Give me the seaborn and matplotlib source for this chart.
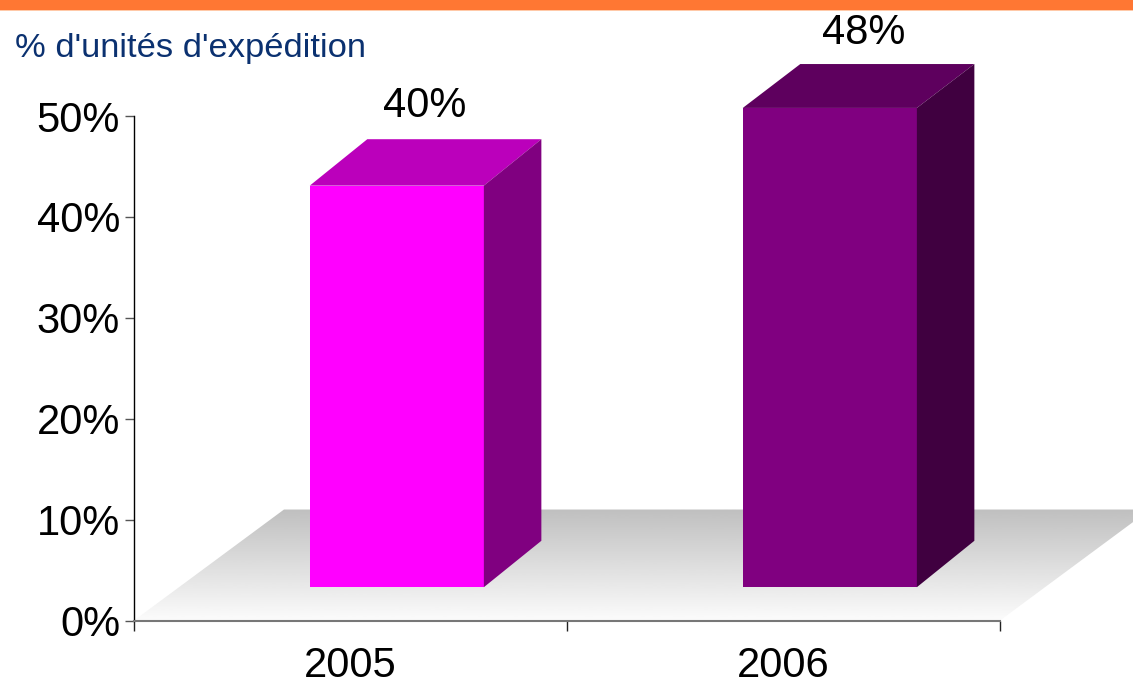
import matplotlib
matplotlib.use("Agg")
import matplotlib.pyplot as plt
import numpy as np
import seaborn as sns
from matplotlib.patches import Polygon, Rectangle

years = ["2005", "2006"]
values = [39.8, 47.5]
value_labels = ["40%", "48%"]
y_ticks = [0, 10, 20, 30, 40, 50]
y_tick_labels = ["0%", "10%", "20%", "30%", "40%", "50%"]
title = "% d'unités d'expédition"

front_colors = ["#ff00ff", "#800080"]
top_colors = ["#bb00bb", "#5e005e"]
side_colors = ["#800080", "#400040"]

W, H = 1133, 686

sns.set_theme(style="white")
plt.rcParams['font.family'] = ['Liberation Sans', 'DejaVu Sans']

fig = plt.figure(figsize=(W / 100, H / 100), dpi=100)
ax = fig.add_axes([134 / W, (H - 620.5) / H, 866 / W, 504.5 / H])
ax.patch.set_alpha(0)

sns.barplot(x=years, y=values, hue=years, palette=front_colors, width=0.402,
            saturation=1, legend=False, linewidth=0, ax=ax, zorder=3)
ax.set_xlim(-0.5, 1.5)
ax.set_ylim(0, 50)

# fake 3d: how far the box goes back, and where the front face sits
depth_x = 57.5 / 433
depth_bottom = 4.6
depth_top = [4.6, 4.35]
label_dx = [28 / 433, 33.5 / 433]
label_dy = [3.3, 3.05]
lift = 3.3
shift = 0.107

# floor with the grey gradient, it runs past the axes on the right
floor = Polygon([(-0.5, 0), (-0.5 + 150 / 433, 11), (1.5 + 150 / 433, 11), (1.5, 0)],
                closed=True, transform=ax.transData, facecolor="none", edgecolor="none")
ax.add_patch(floor)
grad = np.linspace(0.75, 0.985, 256).reshape(-1, 1)
im = ax.imshow(grad, cmap="gray", vmin=0, vmax=1, aspect="auto", zorder=1,
               extent=(-0.5, 1.5 + 150 / 433, 0, 11), origin="upper")
im.set_clip_box(fig.bbox)
im.set_clip_path(floor)
ax.set_xlim(-0.5, 1.5)
ax.set_ylim(0, 50)

# move the bars onto the floor and add top and side faces
bars = [p for p in ax.patches if isinstance(p, Rectangle)]
for i, bar in enumerate(bars):
    bar.set_x(bar.get_x() + shift)
    bar.set_y(lift)
    bar.set_clip_on(False)
    x0, x1 = bar.get_x(), bar.get_x() + bar.get_width()
    y0, y1 = lift, lift + bar.get_height()
    back = y1 + depth_top[i]
    ax.add_patch(Polygon([(x0, y1), (x0 + depth_x, back), (x1 + depth_x, back), (x1, y1)],
                         closed=True, facecolor=top_colors[i], edgecolor="none", zorder=3, clip_on=False))
    ax.add_patch(Polygon([(x1, y0), (x1 + depth_x, y0 + depth_bottom), (x1 + depth_x, back), (x1, y1)],
                         closed=True, facecolor=side_colors[i], edgecolor="none", zorder=3, clip_on=False))
    ax.text((x0 + x1) / 2 + label_dx[i], back + label_dy[i], value_labels[i], ha="center", va="center",
            fontsize=30, color="black")

ax.set_yticks(y_ticks)
ax.set_yticklabels(y_tick_labels)
ax.set_xticks([-0.5, 0.5, 1.5])
ax.set_xticklabels([])
ax.set_xticks([0, 1], labels=years, minor=True)
ax.tick_params(axis="x", which="major", length=7.2, width=1, color="#222222", direction="out", bottom=True)
ax.tick_params(axis="x", which="minor", length=0, pad=18.5, labelsize=30, labelcolor="black", bottom=True)
ax.tick_params(axis="y", length=6.5, width=1, color="#555555", pad=3.5, labelsize=30, labelcolor="black", left=True)
ax.set_xlabel("")
ax.set_ylabel("")

sns.despine(ax=ax)
ax.spines["left"].set_color("black")
ax.spines["left"].set_linewidth(1)
ax.spines["bottom"].set_color("#777777")
ax.spines["bottom"].set_linewidth(1.5)

fig.text(15 / W, 1 - 57 / H, title, fontsize=24.8, color="#0b3170", ha="left", va="baseline")

# orange band on top of the page
fig.add_artist(Rectangle((0, 1 - 11 / H), 1, 1 / H, transform=fig.transFigure, facecolor="#ffc9a8", edgecolor="none", zorder=5))
fig.add_artist(Rectangle((0, 1 - 10 / H), 1, 10 / H, transform=fig.transFigure, facecolor="#ff7733", edgecolor="none", zorder=5))

fig.savefig("out.png", dpi=100)
